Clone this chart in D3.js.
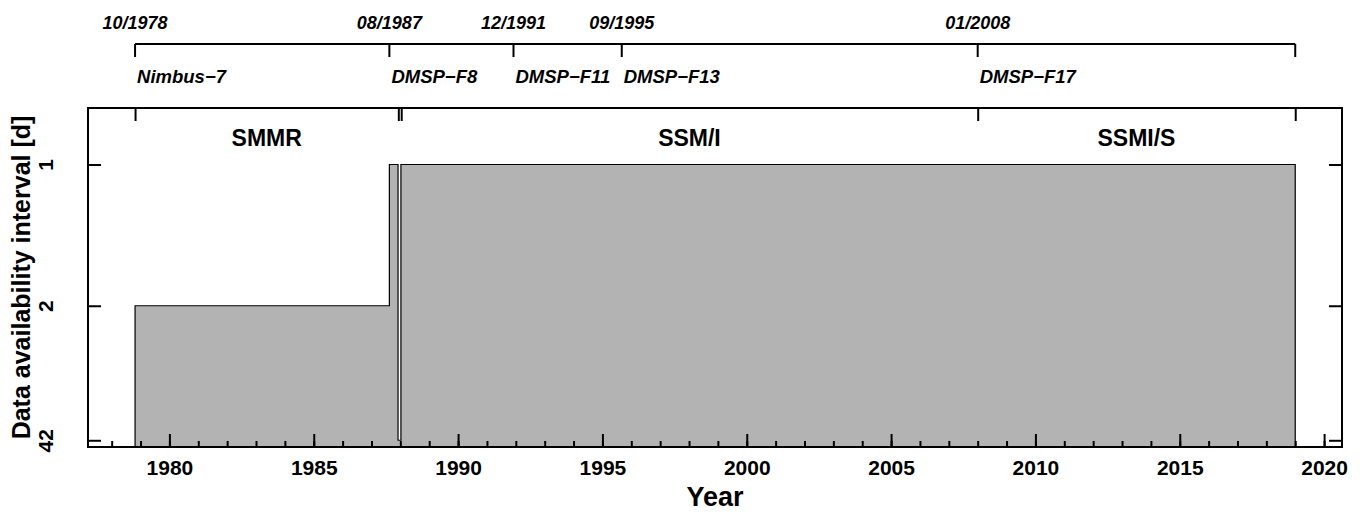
<!DOCTYPE html>
<html><head><meta charset="utf-8">
<script src="https://cdn.jsdelivr.net/npm/d3@7"></script>
<style>
body{margin:0;background:#fff}
text{font-family:"Liberation Sans",Arial,Helvetica,sans-serif;font-weight:bold;fill:#000}
</style>
</head><body><svg id="c" width="1363" height="519"></svg>
<script>
// ---- data ----
const periodStart  = [1978.81, 1987.62, 1987.92, 1988.02];
const periodEnd    = [1987.62, 1987.92, 1988.02, 2019.0];
const intervalDays = [2, 1, 42, 1];
const yTickDays    = [1, 2, 42];
const xMajorTicks  = [1980, 1985, 1990, 1995, 2000, 2005, 2010, 2015, 2020];
const xMinorTicks  = d3.range(1978, 2021);
const eventYears   = [1978.81, 1987.62, 1991.92, 1995.67, 2008.0, 2019.0];
const eventDates   = ["10/1978", "08/1987", "12/1991", "09/1995", "01/2008", ""];
const satellites   = ["Nimbus\u22127", "DMSP\u2212F8", "DMSP\u2212F11", "DMSP\u2212F13", "DMSP\u2212F17", ""];
const sensors      = ["SMMR", "SSM/I", "SSMI/S"];
const sensorStart  = [1978.81, 1988.03, 2008.0];
const sensorEnd    = [1987.93, 2008.0, 2019.0];

// ---- layout ----
const L = 88, R = 1342, T = 108, B = 447;
const svg = d3.select("#c");
const x = d3.scaleLinear().domain([1977.18, 2020.62]).range([L, R]);
const y = d3.scaleLinear().domain([0, 1.2]).range([B, T]);

// ---- area polygon ----
const pts = [[periodStart[0], 0]];
periodStart.forEach((s, i) => { pts.push([s, 1 / intervalDays[i]]); pts.push([periodEnd[i], 1 / intervalDays[i]]); });
pts.push([periodEnd[periodEnd.length - 1], 0]);
svg.append("path")
  .attr("d", d3.line().x(d => x(d[0])).y(d => y(d[1]))(pts) + "Z")
  .attr("fill", "#b3b3b3").attr("stroke", "#000").attr("stroke-width", 1.2);

// ---- axes ----
function style(g) {
  g.select(".domain").remove();
  g.selectAll("line").attr("stroke", "#000").attr("stroke-width", 2);
  g.selectAll("text").style("font-size", "21px");
  g.attr("font-family", null).attr("font-size", null);
}
svg.append("g").attr("transform", `translate(0,${B})`)
  .call(d3.axisBottom(x).tickValues(xMinorTicks).tickSizeInner(-6).tickSizeOuter(0).tickFormat(""))
  .call(style);
svg.append("g").attr("transform", `translate(0,${B})`)
  .call(d3.axisBottom(x).tickValues(xMajorTicks).tickSizeInner(-13).tickSizeOuter(0).tickPadding(13).tickFormat(d3.format("d")))
  .call(style);
svg.append("g").attr("transform", `translate(0,${T})`)
  .call(d3.axisTop(x).tickValues([...sensorStart, 1987.93, 2019.0]).tickSizeInner(-13).tickSizeOuter(0).tickFormat(""))
  .call(style);
const yl = svg.append("g").attr("transform", `translate(${L},0)`)
  .call(d3.axisLeft(y).tickValues(yTickDays.map(d => 1 / d)).tickSizeInner(-13).tickSizeOuter(0).tickFormat((d, i) => yTickDays[i]))
  .call(style);
yl.selectAll("text").attr("x", null).attr("dy", null)
  .attr("text-anchor", "middle").attr("transform", "translate(-35,0) rotate(-90)");
svg.append("g").attr("transform", `translate(${R},0)`)
  .call(d3.axisRight(y).tickValues(yTickDays.map(d => 1 / d)).tickSizeInner(-13).tickSizeOuter(0).tickFormat(""))
  .call(style);

// box
svg.append("rect").attr("x", L).attr("y", T).attr("width", R - L).attr("height", B - T)
  .attr("fill", "none").attr("stroke", "#000").attr("stroke-width", 2);

// ---- sensor labels ----
svg.selectAll(".sens").data(sensors).enter().append("text")
  .attr("x", (d, i) => (x(sensorStart[i]) + x(sensorEnd[i])) / 2)
  .attr("y", 146).attr("text-anchor", "middle").style("font-size", "23px").text(d => d);

// ---- top timeline ----
const tl = svg.append("g");
tl.append("line").attr("x1", x(eventYears[0])).attr("x2", x(eventYears[eventYears.length - 1]))
  .attr("y1", 44).attr("y2", 44).attr("stroke", "#000").attr("stroke-width", 2);
tl.selectAll(".tk").data(eventYears).enter().append("line")
  .attr("x1", d => x(d)).attr("x2", d => x(d)).attr("y1", 44).attr("y2", 57)
  .attr("stroke", "#000").attr("stroke-width", 2);
tl.selectAll(".dt").data(eventYears).enter().append("text")
  .attr("x", d => x(d)).attr("y", 29).attr("text-anchor", "middle")
  .style("font-size", "18px").style("font-style", "italic").text((d, i) => eventDates[i]);
tl.selectAll(".sat").data(eventYears).enter().append("text")
  .attr("x", d => x(d) + 2).attr("y", 83)
  .style("font-size", "18.5px").style("font-style", "italic").text((d, i) => satellites[i]);

// ---- titles ----
svg.append("text").attr("x", (L + R) / 2).attr("y", 506).attr("text-anchor", "middle")
  .style("font-size", "27px").text("Year");
svg.append("text").attr("transform", `translate(30,${(T + B) / 2}) rotate(-90)`).attr("text-anchor", "middle")
  .style("font-size", "25px").text("Data availability interval [d]");
</script>
</body></html>
